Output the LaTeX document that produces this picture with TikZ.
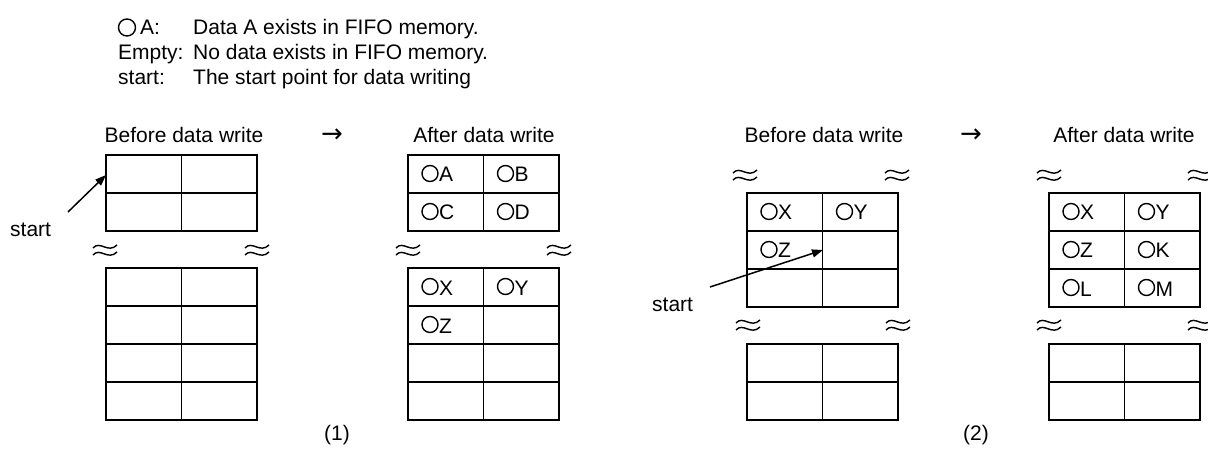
\documentclass[tikz,border=0pt]{standalone}
\usepackage{fontspec}
\setmainfont{Liberation Sans}
\newfontfamily\symfont{DejaVu Sans}
\usetikzlibrary{arrows.meta}
\newcommand\fifotbl[3]{%
  \draw[tbl] (#1,#2) rectangle (#1+151,#2+38*#3);
  \draw[tbl] (#1+75.5,#2) -- (#1+75.5,#2+38*#3);
  \pgfmathtruncatemacro\nrm{#3-1}%
  \foreach \r in {1,...,\nrm}{\draw[tbl] (#1,#2+38*\r) -- (#1+151,#2+38*\r);}%
}
\newcommand\cellmk[4]{%
  \draw[mk] (#1+22,#2+18.5) circle[radius=8pt];
  \node[txt,anchor=base west] (#3) at (#1+31,#2+27) {#4};%
}
\begin{document}
\begin{tikzpicture}[x=1pt,y=-1pt,
  txt/.style={font=\fontsize{21}{25}\selectfont, inner sep=0pt},
  arr/.style={font=\symfont\fontsize{26}{30}\selectfont, inner sep=0pt},
  tbl/.style={line width=1.7pt},
  wv/.style={line width=1.4pt},
  mk/.style={line width=1.4pt},
  ptr/.style={line width=1.5pt,-{Triangle[length=11pt,width=8pt]}},
  wave/.pic={\draw[wv] (-12,-2) .. controls (-5,-10) and (3,4) .. (12,-5);
             \draw[wv] (-12,5) .. controls (-5,-3) and (3,11) .. (12,2);}]
\clip (0,0) rectangle (1208,449);
% legend
\draw[mk] (127,27.5) circle[radius=8.5pt];
\node[txt,anchor=base west] (lA) at (140,35) {A:};
\node[txt,anchor=base west] (lE) at (118,60) {Empty:};
\node[txt,anchor=base west] (lS) at (118,85) {start:};
\node[txt,anchor=base west] (dA) at (193,35) {Data A exists in FIFO memory.};
\node[txt,anchor=base west] (dE) at (193,60) {No data exists in FIFO memory.};
\node[txt,anchor=base west] (dS) at (193,85) {The start point for data writing};
% titles
\node[txt,anchor=base] (b1) at (184,143) {Before data write};
\node[arr,anchor=base] (r1) at (332,143) {→};
\node[txt,anchor=base] (a1) at (484,143) {After data write};
\node[txt,anchor=base] (b2) at (824,143) {Before data write};
\node[arr,anchor=base] (r2) at (971,143) {→};
\node[txt,anchor=base] (a2) at (1124,143) {After data write};
% panel 1
\fifotbl{106}{155}{2}
\fifotbl{106}{268}{4}
\fifotbl{408}{155}{2}
\fifotbl{408}{268}{4}
\cellmk{408}{155}{c1a}{A}
\cellmk{483.5}{155}{c1b}{B}
\cellmk{408}{193}{c1c}{C}
\cellmk{483.5}{193}{c1d}{D}
\cellmk{408}{268}{c1x}{X}
\cellmk{483.5}{268}{c1y}{Y}
\cellmk{408}{306}{c1z}{Z}
\pic at (105,250) {wave};
\pic at (257,250) {wave};
\pic at (408,250) {wave};
\pic at (559,250) {wave};
\node[txt,anchor=base west] (s1) at (10,237) {start};
\coordinate (s1t) at (68,212);
\coordinate (s1h) at (106,175);
\draw[ptr] (s1t) -- (s1h);
\node[txt,anchor=base] (n1) at (337,440) {(1)};
% panel 2
\fifotbl{747}{193}{3}
\fifotbl{747}{344}{2}
\fifotbl{1049}{193}{3}
\fifotbl{1049}{344}{2}
\cellmk{747}{193}{c2x}{X}
\cellmk{822.5}{193}{c2y}{Y}
\cellmk{747}{231}{c2z}{Z}
\cellmk{1049}{193}{c3x}{X}
\cellmk{1124.5}{193}{c3y}{Y}
\cellmk{1049}{231}{c3z}{Z}
\cellmk{1124.5}{231}{c3k}{K}
\cellmk{1049}{269}{c3l}{L}
\cellmk{1124.5}{269}{c3m}{M}
\pic at (745,175) {wave};
\pic at (897,175) {wave};
\pic at (748,325) {wave};
\pic at (898,325) {wave};
\pic at (1049,175) {wave};
\pic at (1200,175) {wave};
\pic at (1049,325) {wave};
\pic at (1200,325) {wave};
\node[txt,anchor=base west] (s2) at (652,312) {start};
\coordinate (s2t) at (710,287);
\coordinate (s2h) at (823,250);
\draw[ptr] (s2t) -- (s2h);
\node[txt,anchor=base] (n2) at (976,440) {(2)};
\end{tikzpicture}
\end{document}
